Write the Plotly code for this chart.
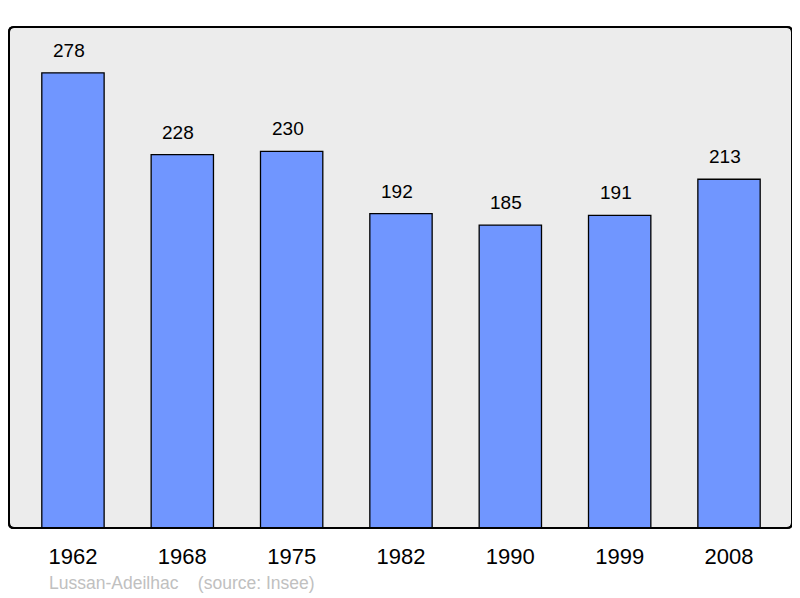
import plotly.graph_objects as go

years = ['1962', '1968', '1975', '1982', '1990', '1999', '2008']
population = [278, 228, 230, 192, 185, 191, 213]

fig = go.Figure()
fig.add_trace(go.Bar(
    x=years, y=population, width=0.57,
    marker=dict(color='#7096ff', line=dict(color='#000000', width=1.3)),
    showlegend=False,
))

for i, val in enumerate(population):
    fig.add_annotation(x=i, y=val, text=str(val), showarrow=False,
                       yanchor='bottom', yshift=10, xshift=-4,
                       font=dict(size=19, color='#000000'))

fig.add_annotation(text='Lussan-Adeilhac\u00a0\u00a0\u00a0\u00a0(source: Insee)',
                   xref='paper', yref='paper', x=0.048, y=-0.11,
                   xanchor='left', yanchor='middle', showarrow=False,
                   font=dict(size=17.5, color='#c0c0c0'))

# rounded frame of the plot area (pixel path around the centre of the plot)
w, h, r = 391.5, 250.5, 5
frame = (f'M {-w + r},{-h} L {w - r},{-h} Q {w},{-h} {w},{-h + r} '
         f'L {w},{h - r} Q {w},{h} {w - r},{h} L {-w + r},{h} '
         f'Q {-w},{h} {-w},{h - r} L {-w},{-h + r} Q {-w},{-h} {-w + r},{-h} Z')
for layer, fill in [('below', '#ececec'), ('above', 'rgba(0,0,0,0)')]:
    fig.add_shape(type='path', path=frame, xref='paper', yref='paper',
                  xsizemode='pixel', ysizemode='pixel', xanchor=0.5, yanchor=0.5,
                  fillcolor=fill, layer=layer,
                  line=dict(color='#000000', width=2))

fig.update_layout(
    width=785, height=590,
    margin=dict(l=1, r=1, t=19, b=70),
    paper_bgcolor='#ffffff', plot_bgcolor='#ffffff',
    font=dict(family='Liberation Sans, Arial, sans-serif'),
)
fig.update_xaxes(type='category', range=[-0.585, 6.576], showgrid=False,
                 zeroline=False, ticks='outside', ticklen=9,
                 tickcolor='rgba(0,0,0,0)',
                 tickfont=dict(size=22, color='#000000'))
fig.update_yaxes(range=[0, 306], showgrid=False, zeroline=False,
                 showticklabels=False)

fig.write_html('out.html')
